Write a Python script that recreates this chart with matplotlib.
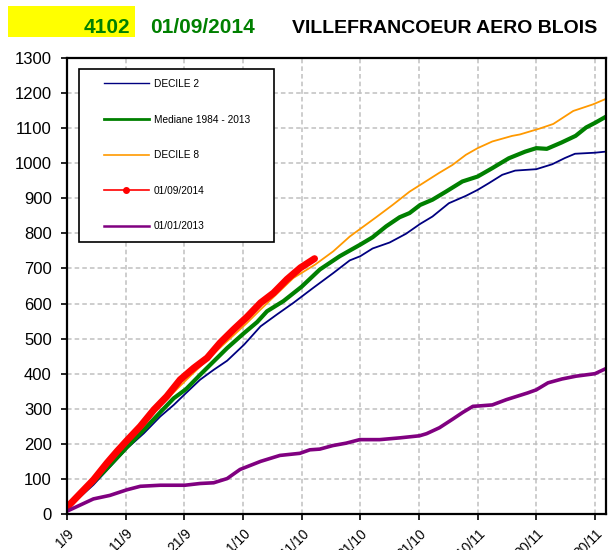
import matplotlib.pyplot as plt
from matplotlib.lines import Line2D
from matplotlib.patches import Rectangle

plt.rcParams['font.family'] = ['Liberation Sans', 'DejaVu Sans']

# jours depuis le 1/9
tick_days = [0, 10, 20, 30, 40, 50, 60, 70, 80, 90]
tick_labels = ['1/9', '11/9', '21/9', '1/10', '11/10', '21/10', '31/10', '10/11', '20/11', '30/11']

days_d2 = [0, 4.5, 10.3, 13.1, 15.9, 18.2, 20.3, 22.7, 25, 27.3, 30.2, 33, 35.8, 38.6, 42, 45.4,
           48.2, 50, 52.1, 55, 57.8, 60.2, 62.3, 65.1, 68, 70, 71.9, 74.2, 76.4, 80, 82.7, 84.9,
           86.6, 90, 91.8]
decile2 = [15, 83, 188, 230, 278, 311, 345, 383, 411, 437, 483, 535, 569, 602, 645, 687,
           723, 735, 757, 774, 799, 827, 848, 886, 907, 924, 943, 967, 979, 983, 997, 1015,
           1027, 1030, 1033]

days_med = [0, 6.3, 10.3, 13.1, 15.9, 18.2, 20.3, 22.7, 25, 27.3, 30.2, 32.4, 34.1, 36.9, 40,
            43.1, 46.5, 50, 52.1, 54.4, 56.7, 58.4, 60.2, 62.3, 64.6, 67.4, 70, 72.5, 75.3, 78.1,
            80, 81.8, 84.3, 86.7, 88.5, 90, 91.8]
mediane = [17, 121, 192, 240, 290, 330, 356, 397, 435, 473, 516, 547, 578, 607, 648,
           697, 735, 768, 789, 820, 846, 858, 881, 896, 919, 948, 962, 986, 1014, 1033,
           1043, 1041, 1059, 1078, 1102, 1115, 1132]

days_d8 = [0, 10, 20.5, 25.5, 30.7, 33, 38.6, 42.3, 45.4, 48.2, 50, 52.7, 55.5, 58.4, 60.2, 63.4,
           65.7, 68, 70, 72.5, 75.9, 77.2, 80.6, 82.9, 86.3, 89.7, 91.8]
decile8 = [18, 212, 385, 465, 545, 583, 673, 711, 749, 791, 813, 846, 881, 919, 938, 972,
           995, 1024, 1043, 1062, 1078, 1082, 1099, 1112, 1149, 1168, 1183]

days_2014 = [0, 2.3, 4.5, 6.8, 8.5, 10.3, 12.5, 14.8, 17, 19.3, 21.6, 23.9, 26.1, 28.4, 30.7,
             33, 35.2, 37.5, 39.8, 42.2]
cumul_2014 = [19, 59, 97, 145, 178, 211, 250, 297, 335, 383, 416, 445, 488, 526, 562,
              602, 630, 669, 702, 728]

days_2013 = [0, 4.5, 7.3, 10.2, 12.5, 15.9, 20.1, 22.7, 25, 27.3, 29.5, 33, 36.3, 39.7, 41.4,
             43.1, 45.3, 47.6, 49.9, 53.3, 56.7, 60.1, 61.3, 63.5, 65.8, 67.5, 69.2, 70.2, 72.5,
             74.9, 78.5, 80, 82, 84.4, 86.8, 90, 91.8]
cumul_2013 = [8, 43, 53, 69, 79, 82, 82, 87, 89, 101, 127, 150, 167, 173, 183,
              185, 195, 202, 212, 212, 217, 223, 229, 246, 271, 290, 307, 308, 311,
              326, 345, 354, 374, 385, 393, 400, 414]

fig = plt.figure(figsize=(6.08, 5.5), dpi=100)
ax = fig.add_axes([67/608, 36/550, 538.5/608, 456/550])

ax.plot(days_d2, decile2, color='#000080', lw=1.3)
ax.plot(days_med, mediane, color='#008000', lw=3)
ax.plot(days_d8, decile8, color='#FF9900', lw=1.3)
ax.plot(days_2014, cumul_2014, color='#FF0000', lw=5, solid_capstyle='round')
ax.plot(days_2013, cumul_2013, color='#800080', lw=2.6)

ax.set_xlim(0, 91.8)
ax.set_ylim(0, 1300)
ax.set_yticks(range(0, 1301, 100))
ax.set_xticks(tick_days)
ax.set_xticklabels(tick_labels, rotation=45, ha='right', va='top', rotation_mode='anchor')
ax.tick_params(axis='y', labelsize=12, length=4, width=1.2, pad=7)
ax.tick_params(axis='x', labelsize=10, length=4, width=1.2, pad=5)
ax.set_axisbelow(True)
ax.grid(True, color='#c0c0c0', linestyle=(0, (3, 2)), linewidth=1.1)
for s in ax.spines.values():
    s.set_linewidth(1.6)

# cadre de la légende
ax.add_patch(Rectangle((0.0223, 0.5965), 0.362, 0.379, transform=ax.transAxes,
                       facecolor='white', edgecolor='black', lw=1.2, zorder=4))
handles = [Line2D([], [], color='#000080', lw=1),
           Line2D([], [], color='#008000', lw=2),
           Line2D([], [], color='#FF9900', lw=1.2),
           Line2D([], [], color='#FF0000', lw=1.2, marker='o', ms=4),
           Line2D([], [], color='#800080', lw=1.8)]
labels = ['DECILE 2', 'Mediane 1984 - 2013', 'DECILE 8', '01/09/2014', '01/01/2013']
leg = ax.legend(handles, labels, loc='upper left', bbox_to_anchor=(0.0687, 0.954),
                frameon=False, fontsize=7.3, handlelength=4.4, handletextpad=0.5,
                labelspacing=2.52, borderpad=0, borderaxespad=0)
leg.set_zorder(5)

# entête
fig.patches.append(Rectangle((8/608, 513/550), 127/608, 31/550, transform=fig.transFigure,
                             facecolor='#FFFF00', edgecolor='none'))
fig.text(130/608, 517/550, '4102', color='#008000', fontsize=15, fontweight='bold', ha='right')
fig.text(150/608, 517/550, '01/09/2014', color='#008000', fontsize=15, fontweight='bold')
fig.text(597/608, 517/550, 'VILLEFRANCOEUR AERO BLOIS', color='black', fontsize=14,
         fontweight='bold', ha='right')

fig.savefig('out.png', dpi=100)
